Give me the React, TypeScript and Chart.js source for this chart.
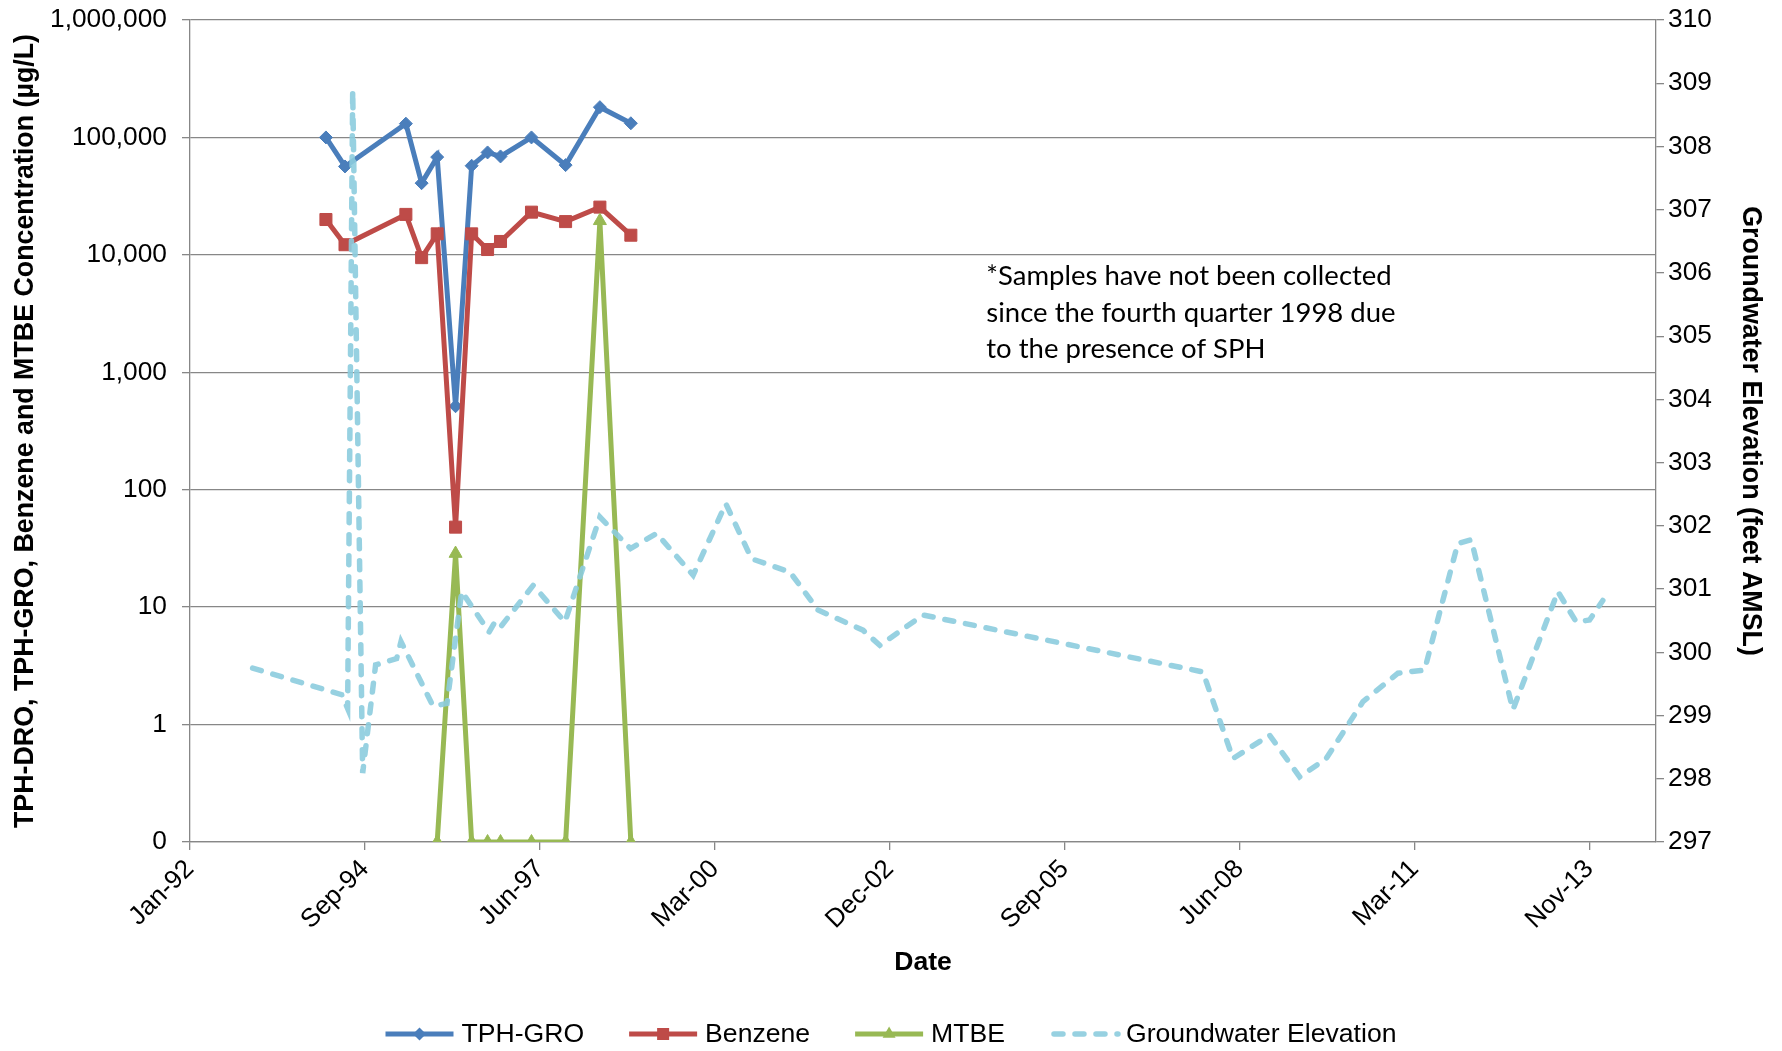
import React, { useEffect, useRef } from 'react';
import { Chart, registerables } from 'chart.js';

Chart.register(...registerables);

// ---------- data ----------
const SAMPLE_DATES = [
  '1994-02-16', '1994-06-05', '1995-05-19', '1995-08-17', '1995-11-14', '1996-02-27', '1996-05-29',
  '1996-08-28', '1996-11-10', '1997-05-06', '1997-11-17', '1998-06-01', '1998-11-25',
];
const TPH_GRO = [100000, 56600, 131000, 40800, 68000, 514, 57400, 74500, 68900, 100000, 58100, 181000, 132000];
const BENZENE = [20000, 12200, 22100, 9470, 15100, 48, 15100, 11100, 13000, 23100, 19200, 25500, 14700];

const MTBE_DATES = [
  '1995-11-14', '1996-02-27', '1996-05-29', '1996-08-28', '1996-11-10', '1997-05-06', '1997-11-17',
  '1998-06-01', '1998-11-25',
];
const MTBE = [0.1, 28.6, 0.1, 0.1, 0.1, 0.1, 0.1, 19500, 0.1];

const GW_DATES = [
  '1992-12-24', '1994-05-17', '1994-06-20', '1994-07-19', '1994-09-14', '1994-11-27', '1995-03-27',
  '1995-04-21', '1995-10-21', '1996-01-09', '1996-04-02', '1996-09-06', '1996-10-09', '1996-11-10',
  '1997-05-16', '1997-11-13', '1998-06-01', '1998-11-23', '1999-04-21', '1999-11-16', '2000-05-21',
  '2000-10-15', '2001-05-22', '2001-10-30', '2002-07-14', '2002-10-18', '2003-06-22', '2007-11-08',
  '2008-04-28', '2008-11-23', '2009-05-14', '2009-10-13', '2010-05-11', '2010-11-27', '2011-04-28',
  '2011-11-04', '2012-01-20', '2012-09-14', '2013-05-29', '2013-09-11', '2013-11-26', '2014-02-10',
];
const GW_ELEV = [
  299.75, 299.33, 299.11, 308.89, 298.09, 299.8, 299.9,
  300.17, 299.15, 299.19, 300.96, 300.32, 300.48, 300.4,
  301.06, 300.48, 302.14, 301.64, 301.88, 301.22, 302.35,
  301.48, 301.27, 300.67, 300.35, 300.11, 300.59, 299.69,
  298.32, 298.69, 298.03, 298.32, 299.22, 299.67, 299.72,
  301.72, 301.78, 299.09, 300.96, 300.48, 300.51, 300.82,
];

const X_TICK_DAYS = [0, 1000, 2000, 3000, 4000, 5000, 6000, 7000, 8000];
const Y_LEFT_TICKS = [0.1, 1, 10, 100, 1000, 10000, 100000, 1000000];
const MONTHS = ['Jan', 'Feb', 'Mar', 'Apr', 'May', 'Jun', 'Jul', 'Aug', 'Sep', 'Oct', 'Nov', 'Dec'];
const NOTE_LINES = [
  '*Samples have not been collected',
  'since the fourth quarter 1998 due',
  'to the presence of SPH',
];

// ---------- helpers ----------
const ORIGIN = Date.UTC(1992, 0, 1);
const toDays = (s: string) => (Date.parse(s) - ORIGIN) / 86400000;
const fmtDate = (d: number) => {
  const dt = new Date(ORIGIN + d * 86400000);
  return MONTHS[dt.getUTCMonth()] + '-' + String(dt.getUTCFullYear() % 100).padStart(2, '0');
};
const pts = (dates: string[], vals: number[]) => dates.map((d, i) => ({ x: toDays(d), y: vals[i] }));

const FONT = '"Liberation Sans", Arial, sans-serif';
const GRID = '#878787';

function drawMarker(ctx: CanvasRenderingContext2D, style: string, x: number, y: number, r: number, color: string) {
  ctx.save();
  ctx.fillStyle = color;
  ctx.setLineDash([]);
  ctx.beginPath();
  if (style === 'rectRot') {
    ctx.moveTo(x, y - r); ctx.lineTo(x + r, y); ctx.lineTo(x, y + r); ctx.lineTo(x - r, y);
  } else if (style === 'rect') {
    const s = r * Math.SQRT1_2;
    ctx.rect(x - s, y - s, 2 * s, 2 * s);
  } else if (style === 'triangle') {
    ctx.moveTo(x, y - r); ctx.lineTo(x + r * 0.866, y + r * 0.5); ctx.lineTo(x - r * 0.866, y + r * 0.5);
  }
  ctx.closePath();
  if (style !== 'none') ctx.fill();
  ctx.restore();
}

const legendPlugin = {
  id: 'excelLegend',
  afterDraw(chart: any) {
    const { ctx, width, height } = chart;
    ctx.save();
    ctx.font = '26.6px ' + FONT;
    const sample = 68, gap = 8, spacing = 45;
    const items = chart.data.datasets.map((ds: any) => ({ ds, w: sample + gap + ctx.measureText(ds.label).width }));
    const total = items.reduce((a: number, b: any) => a + b.w, 0) + spacing * (items.length - 1);
    let x = (width - total) / 2;
    const y = height - 17;
    for (const { ds, w } of items) {
      ctx.save();
      ctx.strokeStyle = ds.borderColor;
      ctx.lineWidth = ds.borderWidth;
      ctx.lineCap = ds.borderCapStyle || 'butt';
      ctx.setLineDash(ds.borderDash || []);
      ctx.beginPath();
      ctx.moveTo(x + (ds.borderDash ? 4 : 0), y);
      ctx.lineTo(x + sample, y);
      ctx.stroke();
      ctx.restore();
      if (ds.pointStyle && ds.pointRadius > 0) drawMarker(ctx, ds.pointStyle, x + sample / 2, y, ds.pointRadius, ds.pointBackgroundColor);
      ctx.fillStyle = '#000';
      ctx.textBaseline = 'middle';
      ctx.textAlign = 'left';
      ctx.fillText(ds.label, x + sample + gap, y + 1);
      x += w + spacing;
    }
    ctx.restore();
  },
};

const notePlugin = {
  id: 'note',
  afterDatasetsDraw(chart: any) {
    const { ctx } = chart;
    const x = chart.scales.x.getPixelForValue(toDays('2004-06-18'));
    const y = chart.scales.y.getPixelForValue(6560);
    ctx.save();
    ctx.font = '27.5px Lato, "Open Sans", sans-serif';
    ctx.fillStyle = '#000';
    ctx.textAlign = 'left';
    ctx.textBaseline = 'middle';
    NOTE_LINES.forEach((l, i) => ctx.fillText(l, x, y + i * 36.4));
    ctx.restore();
  },
};

export default function App() {
  const ref = useRef<HTMLCanvasElement | null>(null);

  useEffect(() => {
    if (!ref.current) return;
    Chart.defaults.font.family = FONT;
    Chart.defaults.color = '#000';

    const chart = new Chart(ref.current, {
      type: 'line',
      data: {
        datasets: [
          {
            label: 'TPH-GRO',
            data: pts(SAMPLE_DATES, TPH_GRO),
            borderColor: '#4A7EBB', backgroundColor: '#4A7EBB',
            pointBackgroundColor: '#4A7EBB', pointBorderColor: '#4A7EBB',
            borderWidth: 5, pointStyle: 'rectRot', pointRadius: 6.5, pointBorderWidth: 1,
            yAxisID: 'y', order: 4, tension: 0,
          } as any,
          {
            label: 'Benzene',
            data: pts(SAMPLE_DATES, BENZENE),
            borderColor: '#BE4B48', backgroundColor: '#BE4B48',
            pointBackgroundColor: '#BE4B48', pointBorderColor: '#BE4B48',
            borderWidth: 5, pointStyle: 'rect', pointRadius: 8.5, pointBorderWidth: 1,
            yAxisID: 'y', order: 3, tension: 0,
          },
          {
            label: 'MTBE',
            data: pts(MTBE_DATES, MTBE),
            borderColor: '#98B954', backgroundColor: '#98B954',
            pointBackgroundColor: '#98B954', pointBorderColor: '#98B954',
            borderWidth: 5, pointStyle: 'triangle', pointRadius: 7.5, pointBorderWidth: 1,
            yAxisID: 'y', order: 2, tension: 0,
          },
          {
            label: 'Groundwater Elevation',
            data: pts(GW_DATES, GW_ELEV),
            borderColor: 'rgba(140,204,222,0.9)', backgroundColor: 'rgba(140,204,222,0.9)',
            borderWidth: 5.5, borderDash: [9, 12], borderCapStyle: 'round',
            pointRadius: 0, pointStyle: 'none',
            yAxisID: 'y2', order: 1, tension: 0,
          } as any,
        ],
      },
      options: {
        animation: false,
        responsive: true,
        maintainAspectRatio: false,
        layout: { padding: { top: 20, left: 0, right: 0, bottom: 0 } },
        plugins: { legend: { display: false }, tooltip: { enabled: false } },
        scales: {
          x: {
            type: 'linear',
            min: 0,
            max: 8380,
            afterBuildTicks: (s: any) => { s.ticks = X_TICK_DAYS.map((v) => ({ value: v })); },
            afterFit: (s: any) => { s.height = 209; },
            ticks: {
              autoSkip: false, minRotation: 45, maxRotation: 45, padding: 4,
              font: { size: 26 },
              callback: (v: any) => fmtDate(Number(v)),
            },
            grid: { drawOnChartArea: false, drawTicks: true, tickLength: 8, color: GRID, lineWidth: 1.3 },
            border: { display: true, color: GRID, width: 1.3 },
            title: { display: true, text: 'Date', font: { size: 26.6, weight: 'bold' }, padding: { top: 0, bottom: 72 } },
          },
          y: {
            type: 'logarithmic',
            position: 'left',
            min: 0.1,
            max: 1000000,
            afterBuildTicks: (s: any) => { s.ticks = Y_LEFT_TICKS.map((v) => ({ value: v })); },
            afterFit: (s: any) => { s.width = 190; s.paddingTop = 10; s.paddingBottom = 10; },
            ticks: {
              padding: 15,
              font: { size: 26.3 },
              callback: (v: any) => (Number(v) < 1 ? '0' : Number(v).toLocaleString('en-US')),
            },
            grid: { drawOnChartArea: true, drawTicks: true, tickLength: 8, color: GRID, lineWidth: 1.3 },
            border: { display: true, color: GRID, width: 1.3 },
            title: {
              display: true,
              text: 'TPH-DRO, TPH-GRO, Benzene and MTBE Concentration (µg/L)',
              font: { size: 26.8, weight: 'bold' },
              padding: { top: 10, bottom: 0 },
            },
          },
          y2: {
            type: 'linear',
            position: 'right',
            min: 297,
            max: 310,
            afterFit: (s: any) => { s.width = 126; s.paddingTop = 10; s.paddingBottom = 10; },
            ticks: { stepSize: 1, padding: 4, font: { size: 26.3 } },
            grid: { drawOnChartArea: false, drawTicks: true, tickLength: 8, color: GRID, lineWidth: 1.3 },
            border: { display: true, color: GRID, width: 1.3 },
            title: {
              display: true,
              text: 'Groundwater Elevation (feet AMSL)',
              font: { size: 26.8, weight: 'bold' },
              padding: { top: 16, bottom: 0 },
            },
          },
        },
      } as any,
      plugins: [legendPlugin, notePlugin],
    });
    return () => chart.destroy();
  }, []);

  return (
    <div style={{ position: 'fixed', left: 0, top: 0, width: 1782, height: 1051, background: '#fff' }}>
      <canvas ref={ref} />
    </div>
  );
}
